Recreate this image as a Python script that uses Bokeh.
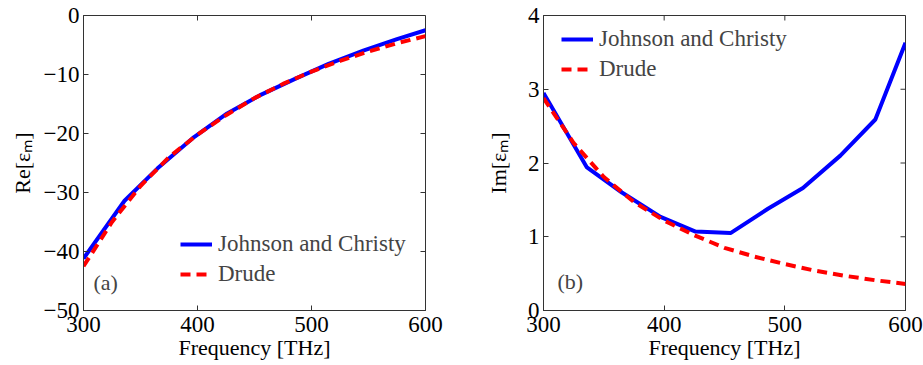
import math
from bokeh.plotting import figure
from bokeh.layouts import row
from bokeh.models import Range1d, Legend, LegendItem, Label, FixedTicker
from bokeh.embed import file_html
from bokeh.resources import INLINE

# Johnson and Christy data
jc_freq = [300, 336, 365, 397, 426, 455, 486, 515, 546, 575, 600]
jc_re = [-41.2, -31.4, -25.9, -20.6, -16.6, -13.5, -10.7, -8.2, -5.9, -4.0, -2.5]
jc_im = [2.95, 1.94, 1.60, 1.27, 1.07, 1.05, 1.38, 1.66, 2.10, 2.59, 3.63]

# Drude model
dr_freq = [300, 325, 350, 375, 400, 425, 450, 475, 500, 525, 550, 575, 600]
dr_re = [-42.5, -35.0, -28.9, -24.0, -20.2, -16.9, -14.0, -11.6, -9.5, -7.7, -6.1, -4.7, -3.5]
dr_im = [2.88, 2.27, 1.81, 1.47, 1.22, 1.02, 0.85, 0.73, 0.63, 0.54, 0.47, 0.41, 0.36]

x_ticks = [300, 400, 500, 600]
re_ticks = [-50, -40, -30, -20, -10, 0]
im_ticks = [0, 1, 2, 3, 4]
x_lim = (300, 600)
re_lim = (-50, 0)
im_lim = (0, 4)

FONT = "'Liberation Serif', 'Times New Roman', serif"
BLUE = "#0000ff"
RED = "#ff0000"
FRAME = "#333333"


def make_fig(width, left, right, top, bottom, ylim, yticks, ylabel, label_standoff):
    p = figure(width=width, height=365, output_backend="svg", toolbar_location=None,
               x_range=Range1d(*x_lim), y_range=Range1d(*ylim),
               min_border_left=left, min_border_right=right,
               min_border_top=top, min_border_bottom=bottom)
    p.grid.visible = False
    p.outline_line_color = FRAME
    p.outline_line_width = 1
    for ax, ticks in ((p.xaxis[0], x_ticks), (p.yaxis[0], yticks)):
        ax.ticker = FixedTicker(ticks=ticks)
        ax.major_tick_in = 5
        ax.major_tick_out = 0
        ax.minor_tick_in = 0
        ax.minor_tick_out = 0
        ax.axis_line_color = FRAME
        ax.major_tick_line_color = FRAME
        ax.major_label_text_font = FONT
        ax.major_label_text_font_size = "23px"
        ax.major_label_text_color = "black"
        ax.axis_label_text_font = FONT
        ax.axis_label_text_font_size = "22px"
        ax.axis_label_text_font_style = "normal"
        ax.axis_label_text_color = "black"
    p.xaxis[0].axis_label = "Frequency [THz]"
    p.xaxis[0].major_label_standoff = 6
    p.xaxis[0].axis_label_standoff = 0
    p.yaxis[0].axis_label = ylabel
    p.yaxis[0].major_label_standoff = 4
    p.yaxis[0].axis_label_standoff = label_standoff
    # mirrored inward ticks on top and right edges
    p.ray(x=x_ticks, y=[ylim[1]] * len(x_ticks), length=5, length_units="screen",
          angle=-math.pi / 2, line_color=FRAME, line_width=1)
    p.ray(x=[x_lim[1]] * len(yticks), y=yticks, length=5, length_units="screen",
          angle=math.pi, line_color=FRAME, line_width=1)
    return p


def make_legend(r1, r2, loc):
    return Legend(items=[LegendItem(label="Johnson and Christy", renderers=[r1]),
                         LegendItem(label="Drude", renderers=[r2])],
                  location=loc, border_line_color=None, background_fill_alpha=0,
                  label_text_font=FONT, label_text_font_size="23px", glyph_width=32,
                  glyph_height=28, label_height=28, label_standoff=6, spacing=2,
                  padding=4, margin=0)


# Panel (a)
pa = make_fig(460, 83, 35, 15, 54, re_lim, re_ticks, "Re[εₘ]", 6)
ra1 = pa.line(jc_freq, jc_re, line_color=BLUE, line_width=4)
ra2 = pa.line(dr_freq, dr_re, line_color=RED, line_width=4, line_dash="10 6")
pa.add_layout(make_legend(ra1, ra2, (97, 22)))
pa.add_layout(Label(x=10, y=16, x_units="screen", y_units="screen", text="(a)",
                    text_font=FONT, text_font_size="22px"))

# Panel (b)
pb = make_fig(463, 83, 18, 14, 55, im_lim, im_ticks, "Im[εₘ]", 14)
rb1 = pb.line(jc_freq, jc_im, line_color=BLUE, line_width=4)
rb2 = pb.line(dr_freq, dr_im, line_color=RED, line_width=4, line_dash="10 6")
pb.add_layout(make_legend(rb1, rb2, (18, 227)))
pb.add_layout(Label(x=14, y=17, x_units="screen", y_units="screen", text="(b)",
                    text_font=FONT, text_font_size="22px"))

layout = row(pa, pb, spacing=0)
open("out.html", "w").write(file_html(layout, INLINE))
